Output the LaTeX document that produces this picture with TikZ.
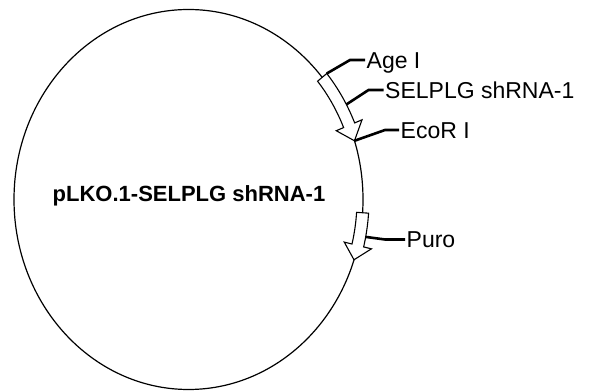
\documentclass[tikz,border=0pt]{standalone}
\usepackage{fontspec}
\setmainfont{Liberation Sans}
\begin{document}
\begin{tikzpicture}[x=1pt,y=1pt,
  ring/.style={line width=1.2pt},
  feat/.style={draw, line width=1.1pt, fill=white, line join=miter},
  leader/.style={line width=2.6pt},
  lab/.style={anchor=west, inner sep=1.5pt, font=\fontsize{23}{23}\selectfont, text height=16.4pt, text depth=0pt},
  ttl/.style={inner sep=0pt, font=\bfseries\fontsize{22}{22}\selectfont, text height=15.75pt, text depth=0pt},
]
\def\cx{188.5}\def\cy{190.5}
\def\rx{174.5}\def\ry{190}
\def\w{6}\def\h{14}
\fill[white] (0,0) rectangle (593,390);
\useasboundingbox (0,0) rectangle (593,390);
% backbone
\draw[ring] (\cx,\cy) ellipse [x radius=\rx, y radius=\ry];
% shRNA arrow
\draw[feat] plot[domain=40:23,samples=18] ({\cx+(\rx+\w)*cos(\x)},{\cy+(\ry+\w)*sin(\x)})
  -- ({\cx+(\rx+\h)*cos(23)},{\cy+(\ry+\h)*sin(23)})
  -- ({\cx+\rx*cos(18)},{\cy+\ry*sin(18)})
  -- ({\cx+(\rx-\h)*cos(23)},{\cy+(\ry-\h)*sin(23)})
  -- plot[domain=23:40,samples=18] ({\cx+(\rx-\w)*cos(\x)},{\cy+(\ry-\w)*sin(\x)})
  -- cycle;
% Puro arrow
\draw[feat] plot[domain=-4:-14,samples=12] ({\cx+(\rx+\w)*cos(\x)},{\cy+(\ry+\w)*sin(\x)})
  -- ({\cx+(\rx+\h)*cos(-14)},{\cy+(\ry+\h)*sin(-14)})
  -- ({\cx+\rx*cos(-18.5)},{\cy+\ry*sin(-18.5)})
  -- ({\cx+(\rx-\h)*cos(-14)},{\cy+(\ry-\h)*sin(-14)})
  -- plot[domain=-14:-4,samples=12] ({\cx+(\rx-\w)*cos(\x)},{\cy+(\ry-\w)*sin(\x)})
  -- cycle;
% leader start points
\coordinate (pAge) at ({\cx+(\rx+\w)*cos(40)},{\cy+(\ry+\w)*sin(40)});
\coordinate (pSh) at ({\cx+(\rx+\w)*cos(29)},{\cy+(\ry+\w)*sin(29)});
\coordinate (pEco) at ({\cx+\rx*cos(18)},{\cy+\ry*sin(18)});
\coordinate (pPuro) at ({\cx+(\rx+\w)*cos(-11)},{\cy+(\ry+\w)*sin(-11)});
% labels
\node[lab] (age) at (365,330) {Age I};
\node[lab] (sh) at (383.5,300) {SELPLG shRNA-1};
\node[lab] (eco) at (399,260) {EcoR I};
\node[lab] (puro) at (405,150.5) {Puro};
\node[ttl] (title) at (189,196.5) {pLKO.1-SELPLG shRNA-1};
% leaders
\draw[leader] (pAge) -- ([xshift=-15pt]age.west) -- (age.west);
\draw[leader] (pSh) -- ([xshift=-15pt]sh.west) -- (sh.west);
\draw[leader] (pEco) -- ([xshift=-14pt]eco.west) -- (eco.west);
\draw[leader] (pPuro) -- ([xshift=-20pt]puro.west) -- (puro.west);
\end{tikzpicture}
\end{document}
